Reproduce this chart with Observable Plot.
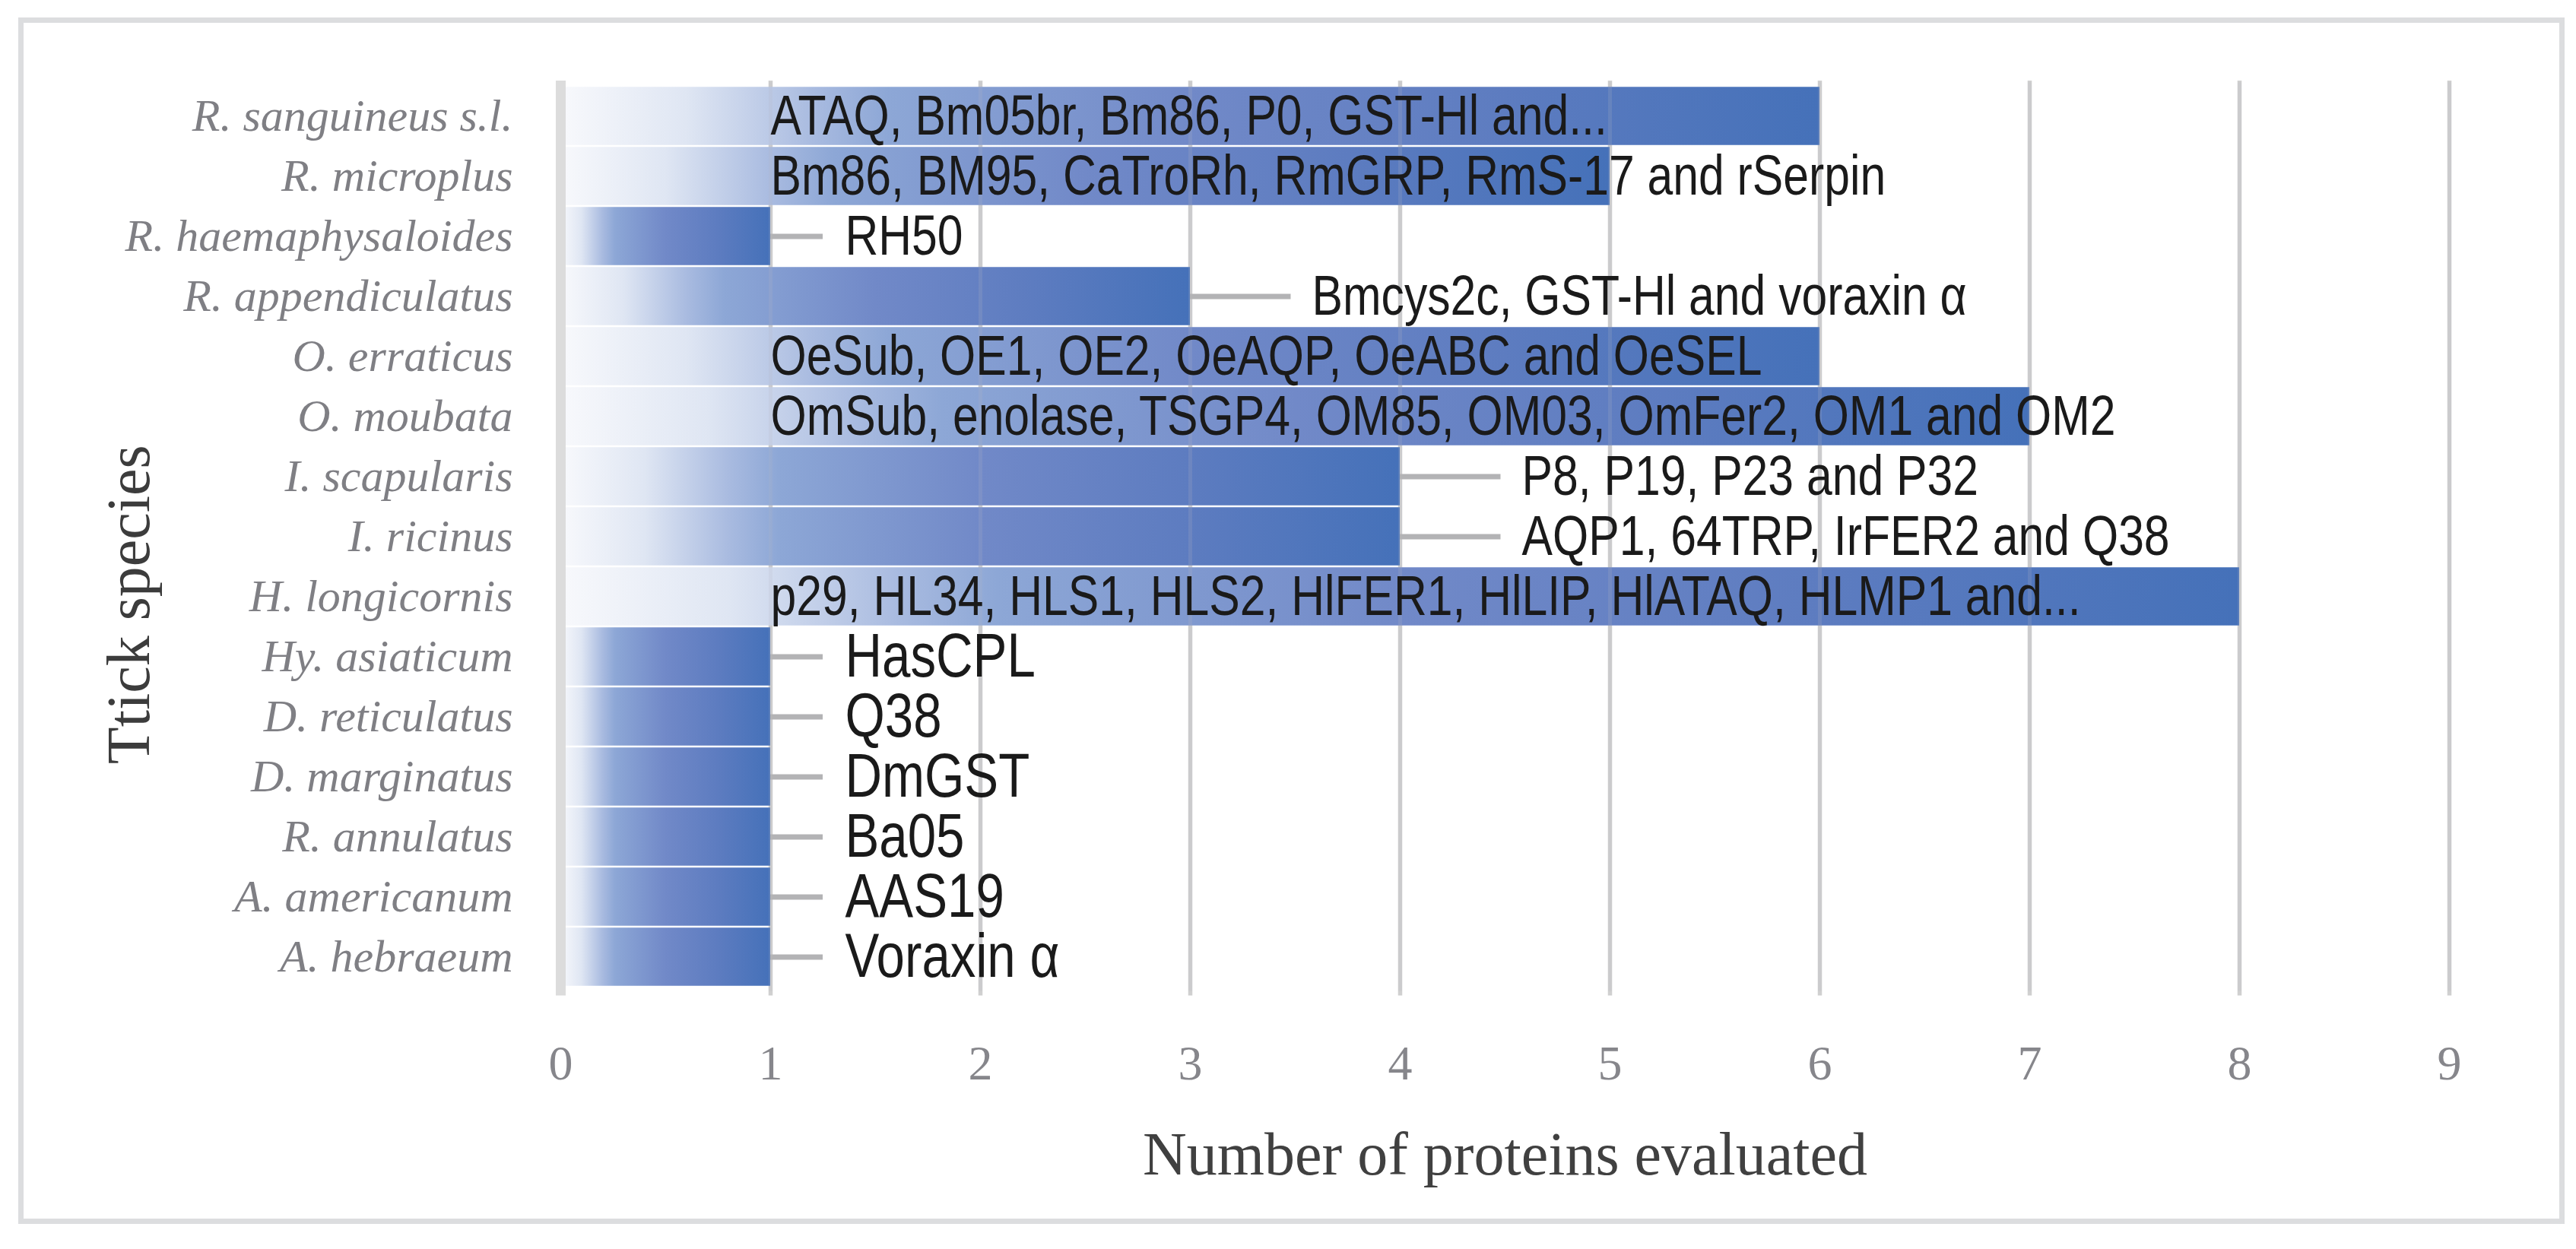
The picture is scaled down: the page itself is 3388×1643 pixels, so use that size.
<!DOCTYPE html>
<html>
<head>
<meta charset="utf-8">
<script src="https://cdn.jsdelivr.net/npm/d3@7"></script>
<script src="https://cdn.jsdelivr.net/npm/@observablehq/plot@0.6"></script>
<style>
  html, body { margin: 0; padding: 0; background: #ffffff; }
  #chart { width: 3388px; height: 1643px; }
  #chart svg { display: block; }
</style>
</head>
<body>
<div id="chart"></div>
<script>
// ---- data ----
const species = [
  "R. sanguineus s.l.", "R. microplus", "R. haemaphysaloides", "R. appendiculatus",
  "O. erraticus", "O. moubata", "I. scapularis", "I. ricinus", "H. longicornis",
  "Hy. asiaticum", "D. reticulatus", "D. marginatus", "R. annulatus",
  "A. americanum", "A. hebraeum"
];
const counts = [6, 5, 1, 3, 6, 7, 4, 4, 8, 1, 1, 1, 1, 1, 1];
const proteins = [
  "ATAQ, Bm05br, Bm86, P0, GST-Hl and...",
  "Bm86, BM95, CaTroRh, RmGRP, RmS-17 and rSerpin",
  "RH50",
  "Bmcys2c, GST-Hl and voraxin α",
  "OeSub, OE1, OE2, OeAQP, OeABC and OeSEL",
  "OmSub, enolase, TSGP4, OM85, OM03, OmFer2, OM1 and OM2",
  "P8, P19, P23 and P32",
  "AQP1, 64TRP, IrFER2 and Q38",
  "p29, HL34, HLS1, HLS2, HlFER1, HlLIP, HlATAQ, HLMP1 and...",
  "HasCPL", "Q38", "DmGST", "Ba05", "AAS19", "Voraxin α"
];
const xTicks = [0, 1, 2, 3, 4, 5, 6, 7, 8, 9];
const xTitle = "Number of proteins evaluated";
const yTitle = "Ttick species";

const rows = species.map((s, i) => ({species: s, count: counts[i], proteins: proteins[i], order: i}));

// ---- layout rules (style, not data) ----
const isInside = d => d.count >= 5;
const leaderLen = d => d.count >= 3 ? 0.48 : 0.25;
const labelGap = d => d.count >= 3 ? 0.58 : 0.355;
const serif = "'Liberation Serif', 'DejaVu Serif', serif";
const sans = "'Liberation Sans', Arial, sans-serif";

const plot = Plot.plot({
  width: 3388,
  height: 1643,
  marginLeft: 737,
  marginRight: 167,
  marginTop: 108,
  marginBottom: 339.5,
  style: {background: "transparent", overflow: "visible"},
  x: {domain: [0, 9], axis: null},
  y: {domain: species, padding: 0, axis: null},
  marks: [
    Plot.gridX(xTicks.slice(1), {stroke: "#d0d0d0", strokeOpacity: 1, strokeWidth: 5.5, insetTop: -2, insetBottom: -6}),
    Plot.barX(rows, {x: "count", y: "species", fill: "url(#bargrad)", insetTop: 1.25, insetBottom: 1.25}),
    Plot.gridX(xTicks.slice(1), {stroke: "#b8b8c0", strokeOpacity: 0.18, strokeWidth: 5}),
    Plot.ruleX([0], {stroke: "#dcdcdc", strokeWidth: 13, insetTop: -2, insetBottom: -6}),
    Plot.ruleY(rows.filter(d => !isInside(d)), {
      y: "species",
      x1: "count",
      x2: d => d.count + leaderLen(d),
      stroke: "#b3b3b5",
      strokeWidth: 7
    }),
    Plot.text(rows, {
      y: "species",
      x: d => isInside(d) ? 1 : d.count + labelGap(d),
      text: "proteins",
      textAnchor: "start",
      lineAnchor: "middle",
      fontSize: d => d.order >= 9 ? 82 : 74,
      fontFamily: sans,
      fill: "#1a1a1a"
    }),
    Plot.axisX({ticks: xTicks, label: null, tickSize: 0, tickPadding: 71, fontSize: 64, fontFamily: serif, color: "#86868b"}),
    Plot.axisY({label: null, tickSize: 0, tickPadding: 63, fontSize: 60, fontStyle: "italic", fontFamily: serif, color: "#7f7f84"}),
    Plot.text([xTitle], {text: d => d, frameAnchor: "bottom", dy: 215.5, textAnchor: "middle", lineAnchor: "middle", fontSize: 80, fontFamily: serif, fill: "#404040"}),
    Plot.text([yTitle], {text: d => d, frameAnchor: "left", rotate: -90, dx: -567, dy: 89, textAnchor: "middle", lineAnchor: "middle", fontSize: 80, fontFamily: serif, fill: "#3c3c3c"})
  ]
});

const sel = d3.select(plot);
sel.insert("defs", ":first-child").html(
  `<linearGradient id="bargrad" x1="0" x2="1" y1="0" y2="0">
     <stop offset="0" stop-color="#f8f9fc"/>
     <stop offset="0.1" stop-color="#dfe6f3"/>
     <stop offset="0.2" stop-color="#a9bbe0"/>
     <stop offset="0.26" stop-color="#8da7d6"/>
     <stop offset="0.5" stop-color="#7189c8"/>
     <stop offset="0.75" stop-color="#5d7cc0"/>
     <stop offset="1" stop-color="#4571b9"/>
   </linearGradient>`
);
// condensed (Arial Narrow-like) look for the bar labels
const labelSet = new Set(proteins);
sel.selectAll("text").filter(function() { return labelSet.has(this.textContent); }).each(function() {
  const t = this.getAttribute("transform");
  if (t) {
    this.setAttribute("transform", t + " scale(0.82,1)");
  } else {
    const x = +this.getAttribute("x") || 0, y = +this.getAttribute("y") || 0;
    this.removeAttribute("x"); this.removeAttribute("y");
    this.setAttribute("transform", `translate(${x},${y}) scale(0.82,1)`);
  }
});
sel.append("rect")
  .attr("x", 27.5).attr("y", 26.5)
  .attr("width", 3342).attr("height", 1580)
  .attr("fill", "none").attr("stroke", "#dcdddf").attr("stroke-width", 7);

document.getElementById("chart").appendChild(plot);
</script>
</body>
</html>
